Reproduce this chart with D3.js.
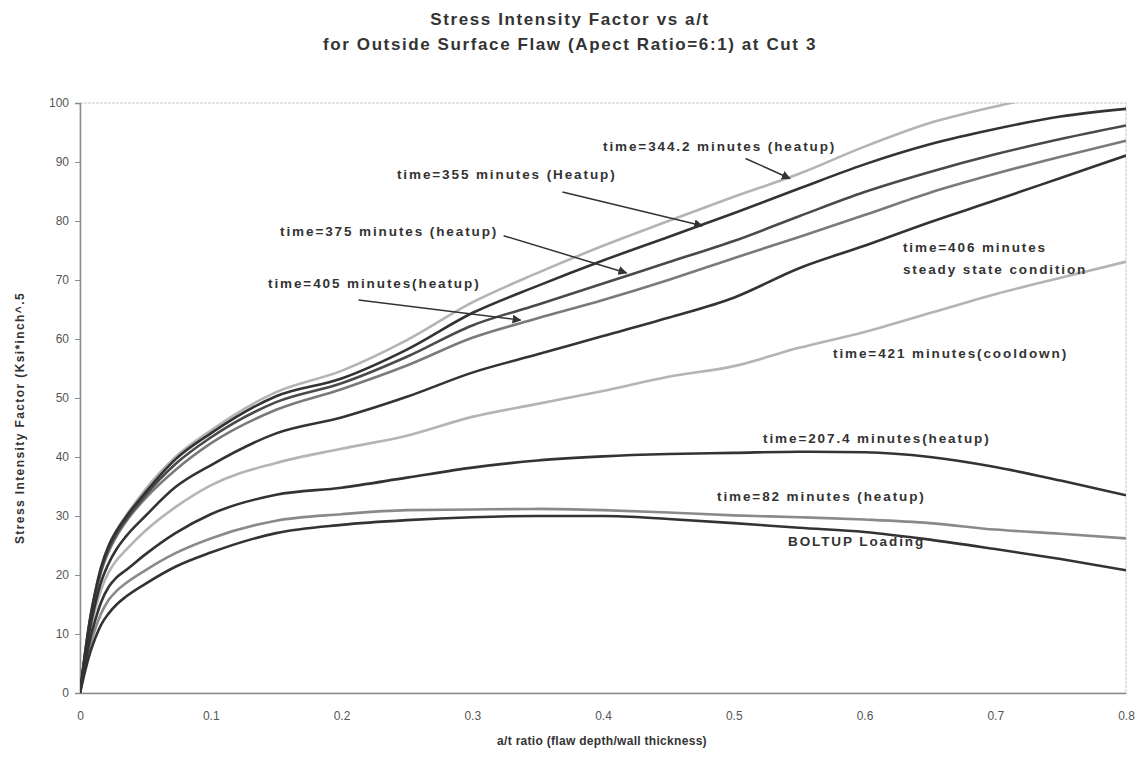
<!DOCTYPE html>
<html>
<head>
<meta charset="utf-8">
<script src="https://cdn.jsdelivr.net/npm/d3@7"></script>
<style>
  html, body { margin: 0; padding: 0; background: #ffffff; }
  svg { display: block; }
  text { font-family: "Liberation Sans", Arial, sans-serif; }
</style>
</head>
<body>
<svg id="chart" width="1140" height="773"></svg>
<script>
// a/t ratio sample positions shared by every curve
const aRatio = [0, 0.004, 0.008, 0.012, 0.016, 0.022, 0.028, 0.035, 0.05, 0.073, 0.1, 0.15, 0.2, 0.25, 0.3, 0.35, 0.4, 0.45, 0.5, 0.55, 0.6, 0.65, 0.7, 0.75, 0.8];

// Stress intensity factor (Ksi*inch^.5) for each loading case
const k344 = [0, 7.0, 13.0, 17.5, 21.2, 25.0, 27.6, 30.0, 34.5, 40.0, 44.5, 51.0, 54.6, 59.8, 66.2, 71.2, 75.8, 80.0, 84.1, 88.0, 92.6, 96.6, 99.4, 101.8, 104.0];
const k355 = [0, 7.0, 13.0, 17.5, 21.2, 25.0, 27.5, 29.8, 34.0, 39.6, 44.0, 50.3, 53.3, 58.2, 64.4, 69.0, 73.3, 77.3, 81.3, 85.5, 89.6, 93.0, 95.6, 97.7, 99.0];
const k375 = [0, 6.9, 12.7, 17.2, 20.8, 24.5, 27.0, 29.3, 33.5, 38.8, 43.3, 49.3, 52.5, 57.0, 62.3, 65.8, 69.4, 73.0, 76.6, 80.8, 84.9, 88.3, 91.3, 93.9, 96.2];
const k405 = [0, 6.7, 12.5, 16.8, 20.4, 24.0, 26.6, 29.0, 33.0, 37.8, 42.3, 48.0, 51.5, 55.5, 60.2, 63.5, 66.6, 70.0, 73.7, 77.3, 81.0, 84.8, 88.0, 90.9, 93.6];
const k406 = [0, 6.2, 11.4, 15.4, 18.7, 22.0, 24.4, 26.5, 30.0, 34.9, 38.6, 44.0, 46.7, 50.2, 54.3, 57.4, 60.5, 63.6, 67.0, 72.0, 75.8, 79.8, 83.5, 87.3, 91.1];
const k421 = [0, 5.7, 10.7, 14.4, 17.4, 20.5, 22.5, 24.2, 27.5, 31.5, 35.2, 39.0, 41.4, 43.6, 46.8, 49.0, 51.2, 53.6, 55.4, 58.5, 61.2, 64.4, 67.6, 70.4, 73.1];
const k2074 = [0, 5.0, 9.4, 12.6, 15.3, 18.0, 19.6, 20.8, 23.5, 27.1, 30.3, 33.6, 34.8, 36.5, 38.2, 39.4, 40.1, 40.5, 40.7, 40.9, 40.8, 40.0, 38.3, 36.0, 33.5];
const k82 = [0, 4.4, 8.2, 11.1, 13.4, 15.8, 17.3, 18.6, 20.8, 23.7, 26.2, 29.2, 30.3, 31.0, 31.1, 31.2, 31.0, 30.6, 30.1, 29.8, 29.4, 28.8, 27.7, 27.0, 26.2];
const kBoltup = [0, 3.8, 7.0, 9.5, 11.5, 13.5, 15.0, 16.3, 18.5, 21.4, 23.8, 27.1, 28.5, 29.3, 29.8, 30.0, 30.0, 29.5, 28.8, 28.0, 27.3, 26.0, 24.4, 22.7, 20.8];

// axis ticks
const xTicks = [0, 0.1, 0.2, 0.3, 0.4, 0.5, 0.6, 0.7, 0.8];
const yTicks = [0, 10, 20, 30, 40, 50, 60, 70, 80, 90, 100];

// curve drawing order with stroke shade
const series = [
  { values: k421, color: "#b4b4b4" },
  { values: k344, color: "#b4b4b4" },
  { values: k82, color: "#8a8a8a" },
  { values: k405, color: "#7a7a7a" },
  { values: k375, color: "#4a4a4a" },
  { values: kBoltup, color: "#333333" },
  { values: k2074, color: "#333333" },
  { values: k406, color: "#333333" },
  { values: k355, color: "#333333" }
];

// curve labels; arrows point from a label to its curve (a/t, K)
const labels = [
  { text: "time=344.2 minutes (heatup)", x: 0.400, y: 92.4, arrow: [[0.509, 90.6], [0.543, 87.2]] },
  { text: "time=355 minutes (Heatup)", x: 0.2424, y: 87.8, arrow: [[0.369, 84.9], [0.476, 79.2]] },
  { text: "time=375 minutes (heatup)", x: 0.1530, y: 78.0, arrow: [[0.324, 77.5], [0.418, 71.2]] },
  { text: "time=405 minutes(heatup)", x: 0.1438, y: 69.2, arrow: [[0.213, 66.6], [0.337, 63.2]] },
  { text: "time=406 minutes", x: 0.6294, y: 75.4 },
  { text: "steady state condition", x: 0.6294, y: 71.6 },
  { text: "time=421 minutes(cooldown)", x: 0.5759, y: 57.3 },
  { text: "time=207.4 minutes(heatup)", x: 0.5224, y: 42.9 },
  { text: "time=82 minutes (heatup)", x: 0.4872, y: 33.1 },
  { text: "BOLTUP Loading", x: 0.5415, y: 25.6 }
];

const svg = d3.select("#chart");
const x = d3.scaleLinear().domain([0, 0.8]).range([80, 1126]);
const y = d3.scaleLinear().domain([0, 100]).range([693, 103]);

// plot area frame
svg.append("rect")
  .attr("x", x(0)).attr("y", y(100))
  .attr("width", x(0.8) - x(0)).attr("height", y(0) - y(100))
  .attr("fill", "#ffffff").attr("stroke", "#c8c8c8").attr("stroke-width", 1)
  .attr("stroke-dasharray", "3,1");

svg.append("clipPath").attr("id", "plotClip")
  .append("rect")
  .attr("x", x(0)).attr("y", y(100))
  .attr("width", x(0.8) - x(0)).attr("height", y(0) - y(100));

// axes
const yAxis = d3.axisLeft(y).tickValues(yTicks).tickSize(5).tickPadding(6).tickFormat(d3.format("d"));
const gy = svg.append("g").attr("transform", `translate(${x(0)},0)`).call(yAxis);
const xAxis = d3.axisBottom(x).tickValues(xTicks).tickSize(0).tickPadding(18)
  .tickFormat(d => d === 0 ? "0" : d3.format(".1f")(d));
const gx = svg.append("g").attr("transform", `translate(0,${y(0)})`).call(xAxis);

[gx, gy].forEach(g => {
  g.select(".domain").attr("stroke", "#8c8c8c").attr("stroke-width", 1.5);
  g.selectAll(".tick line").attr("stroke", "#8c8c8c");
  g.selectAll(".tick text")
    .attr("fill", "#555555")
    .style("font-size", "12px")
    .style("font-family", "'Liberation Sans', Arial, sans-serif");
});

// curves
const line = d3.line()
  .x((d, i) => x(aRatio[i]))
  .y(d => y(d))
  .curve(d3.curveMonotoneX);

const plot = svg.append("g").attr("clip-path", "url(#plotClip)");
plot.selectAll("path.curve")
  .data(series)
  .join("path")
  .attr("class", "curve")
  .attr("d", s => line(s.values))
  .attr("fill", "none")
  .attr("stroke", s => s.color)
  .attr("stroke-width", 2.6)
  .attr("stroke-linejoin", "round");

// arrow marker
svg.append("defs").append("marker")
  .attr("id", "arrowHead")
  .attr("viewBox", "0 0 10 10")
  .attr("refX", 9).attr("refY", 5)
  .attr("markerWidth", 9).attr("markerHeight", 9)
  .attr("markerUnits", "userSpaceOnUse")
  .attr("orient", "auto")
  .append("path")
  .attr("d", "M0,0 L10,5 L0,10 z")
  .attr("fill", "#333333");

const ann = svg.append("g");
labels.forEach(l => {
  ann.append("text")
    .attr("x", x(l.x)).attr("y", y(l.y))
    .attr("text-anchor", "start")
    .attr("dominant-baseline", "middle")
    .attr("fill", "#333333")
    .style("font-size", "13.5px")
    .style("font-weight", "bold")
    .style("letter-spacing", "1.9px")
    .text(l.text);
  if (l.arrow) {
    ann.append("line")
      .attr("x1", x(l.arrow[0][0])).attr("y1", y(l.arrow[0][1]))
      .attr("x2", x(l.arrow[1][0])).attr("y2", y(l.arrow[1][1]))
      .attr("stroke", "#333333").attr("stroke-width", 1.5)
      .attr("marker-end", "url(#arrowHead)");
  }
});

// titles
svg.append("text")
  .attr("x", 570).attr("y", 25)
  .attr("text-anchor", "middle")
  .attr("fill", "#333333")
  .style("font-size", "17px").style("font-weight", "bold")
  .style("letter-spacing", "1.6px")
  .text("Stress Intensity Factor vs a/t");
svg.append("text")
  .attr("x", 570).attr("y", 50)
  .attr("text-anchor", "middle")
  .attr("fill", "#333333")
  .style("font-size", "17px").style("font-weight", "bold")
  .style("letter-spacing", "1.6px")
  .text("for Outside Surface Flaw (Apect Ratio=6:1) at Cut 3");

svg.append("text")
  .attr("x", 602).attr("y", 745)
  .attr("text-anchor", "middle")
  .attr("fill", "#333333")
  .style("font-size", "12px").style("font-weight", "bold")
  .style("letter-spacing", "0.3px")
  .text("a/t ratio (flaw depth/wall thickness)");

svg.append("text")
  .attr("transform", "translate(24,418) rotate(-90)")
  .attr("text-anchor", "middle")
  .attr("fill", "#333333")
  .style("font-size", "12px").style("font-weight", "bold")
  .style("letter-spacing", "1.4px")
  .text("Stress Intensity Factor (Ksi*inch^.5");
</script>
</body>
</html>
